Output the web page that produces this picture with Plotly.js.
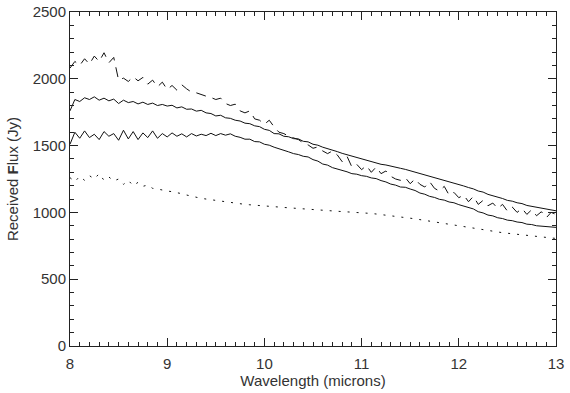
<!DOCTYPE html>
<html>
<head>
<meta charset="utf-8">
<script src="https://cdn.plot.ly/plotly-3.0.1.min.js"></script>
<style>html,body{margin:0;padding:0;background:#fff;}#chart{width:570px;height:393px;}</style>
</head>
<body>
<div id="chart"></div>
<script>
const wavelength = [8.00,8.05,8.10,8.15,8.20,8.25,8.30,8.35,8.40,8.45,8.50,8.55,8.60,8.65,8.70,8.75,8.80,8.85,8.90,8.95,
9.00,9.05,9.10,9.15,9.20,9.25,9.30,9.35,9.40,9.45,9.50,9.55,9.60,9.65,9.70,9.75,9.80,9.85,9.90,9.95,
10.00,10.05,10.10,10.15,10.20,10.25,10.30,10.35,10.40,10.45,10.50,10.55,10.60,10.65,10.70,10.75,10.80,10.85,10.90,10.95,
11.00,11.05,11.10,11.15,11.20,11.25,11.30,11.35,11.40,11.45,11.50,11.55,11.60,11.65,11.70,11.75,11.80,11.85,11.90,11.95,
12.00,12.05,12.10,12.15,12.20,12.25,12.30,12.35,12.40,12.45,12.50,12.55,12.60,12.65,12.70,12.75,12.80,12.85,12.90,12.95,13.00];

const dashedFlux = [2080,2130,2100,2150,2110,2170,2130,2195,2120,2160,1990,2005,1980,2015,1985,2010,1960,1990,1940,1975,
1920,1950,1915,1955,1925,1900,1895,1880,1870,1860,1845,1855,1815,1800,1810,1760,1745,1760,1700,1690,
1660,1690,1640,1600,1590,1570,1560,1545,1520,1505,1480,1490,1460,1440,1460,1430,1380,1420,1340,1360,
1320,1350,1300,1340,1290,1310,1270,1250,1240,1260,1215,1250,1210,1190,1230,1180,1160,1195,1130,1150,
1110,1130,1080,1120,1060,1090,1050,1070,1030,1060,1010,1040,1000,1030,985,1020,975,1005,960,1000,985];

const upperSolidFlux = [1760,1845,1830,1858,1845,1865,1840,1855,1835,1848,1815,1840,1822,1830,1812,1825,1808,1818,1800,1808,
1796,1802,1782,1790,1772,1774,1758,1764,1745,1740,1722,1727,1708,1704,1690,1684,1668,1664,1648,1642,
1622,1614,1590,1588,1570,1566,1552,1550,1532,1528,1510,1503,1488,1478,1465,1455,1442,1432,1418,1410,
1400,1390,1380,1373,1360,1355,1345,1340,1330,1322,1312,1303,1290,1282,1268,1260,1248,1242,1228,1222,
1208,1198,1186,1176,1160,1152,1135,1126,1112,1104,1090,1084,1072,1066,1052,1046,1035,1032,1024,1020,1012];

const lowerSolidFlux = [1510,1600,1555,1610,1560,1585,1545,1605,1570,1590,1540,1615,1550,1605,1545,1595,1560,1610,1555,1590,
1565,1595,1570,1588,1565,1590,1572,1585,1575,1592,1575,1590,1578,1588,1570,1562,1548,1548,1530,1528,
1510,1503,1488,1478,1465,1453,1440,1433,1420,1415,1395,1384,1362,1354,1335,1326,1312,1304,1290,1286,
1275,1270,1258,1253,1238,1228,1212,1204,1190,1188,1175,1164,1145,1136,1120,1112,1098,1092,1078,1072,
1058,1048,1035,1026,1005,996,980,974,960,954,942,938,928,924,912,909,900,898,892,891,888];

const dottedFlux = [1260,1230,1270,1240,1275,1250,1290,1240,1265,1235,1250,1210,1240,1200,1225,1195,1205,1180,1175,1165,
1160,1155,1150,1140,1130,1120,1115,1105,1100,1095,1090,1080,1075,1070,1065,1062,1060,1057,1055,1052,
1050,1046,1043,1040,1037,1034,1031,1028,1025,1022,1020,1017,1015,1012,1010,1008,1006,1004,1002,1001,
1000,996,992,988,984,980,976,972,968,963,958,952,946,940,934,928,922,916,910,904,
898,892,886,880,874,868,862,857,852,848,844,840,836,832,828,824,820,816,812,808,805];

const xTickVals = [8,9,10,11,12,13];
const yTickVals = [0,500,1000,1500,2000,2500];

const lineStyle = (dash) => ({color:'#111', width:1, dash:dash});
const traces = [
  {x:wavelength, y:dashedFlux, mode:'lines', line:lineStyle('10px,7px'), hoverinfo:'skip'},
  {x:wavelength, y:upperSolidFlux, mode:'lines', line:lineStyle('solid'), hoverinfo:'skip'},
  {x:wavelength, y:lowerSolidFlux, mode:'lines', line:lineStyle('solid'), hoverinfo:'skip'},
  {x:wavelength, y:dottedFlux, mode:'lines', line:lineStyle('2px,7px'), hoverinfo:'skip'}
];

const font = {family:'Liberation Sans, Arial, sans-serif', size:15, color:'#333'};
const layout = {
  width:570, height:393,
  margin:{l:70, r:14, t:12, b:47},
  paper_bgcolor:'#fff', plot_bgcolor:'#fff',
  showlegend:false,
  font:font,
  xaxis:{
    range:[8,13], tickvals:xTickVals, ticktext:xTickVals.map(String),
    ticks:'inside', ticklen:8, tickcolor:'#222', tickwidth:1, ticklabelstandoff:4,
    minor:{dtick:0.1, tick0:8, ticks:'inside', ticklen:4, tickcolor:'#222', showgrid:false},
    showline:true, linecolor:'#222', linewidth:1, mirror:'ticks',
    showgrid:false, zeroline:false,
    title:{text:'Wavelength (microns)', font:font, standoff:4}
  },
  yaxis:{
    range:[0,2500], tickvals:yTickVals, ticktext:yTickVals.map(String),
    ticks:'inside', ticklen:8, tickcolor:'#222', tickwidth:1,
    minor:{dtick:100, tick0:0, ticks:'inside', ticklen:4, tickcolor:'#222', showgrid:false},
    showline:true, linecolor:'#222', linewidth:1, mirror:'ticks',
    showgrid:false, zeroline:false,
    title:{text:'Received <b>F</b>lux (Jy)', font:font, standoff:10}
  }
};
Plotly.newPlot('chart', traces, layout, {staticPlot:true, displayModeBar:false});
</script>
</body>
</html>
